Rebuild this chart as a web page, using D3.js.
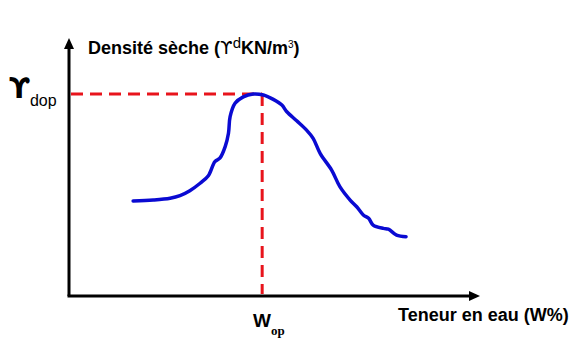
<!DOCTYPE html>
<html>
<head>
<meta charset="utf-8">
<script src="https://cdn.jsdelivr.net/npm/d3@7"></script>
<style>
  body { margin: 0; background: #fff; }
  svg { display: block; }
</style>
</head>
<body>
<svg width="575" height="353"></svg>
<script>
// compaction curve (arbitrary units 0..100)
var waterContent = [15.6, 20.5, 24.6, 27.0, 29.4, 31.9, 33.9, 35.5, 36.7, 38.0, 38.8, 39.2, 40.4, 42.4, 44.8, 47.3,
  49.7, 51.8, 53.0, 55.4, 57.8, 59.4, 61.1, 63.9, 65.9, 68.4, 70.0, 71.6, 72.9, 74.0, 76.5, 77.7, 79.7, 82.0];
var dryDensity = [36.8, 37.2, 37.9, 38.9, 40.8, 43.7, 46.6, 52.1, 53.4, 57.9, 63.1, 69.5, 74.7, 77.2, 78.3, 77.9,
  76.2, 74.0, 71.4, 67.9, 64.3, 61.1, 55.3, 48.8, 42.4, 37.2, 34.6, 31.4, 30.1, 27.5, 26.2, 25.9, 23.6, 23.0];
var wOp = 47.0;
var dOp = 78.3;

var svg = d3.select('svg');

var x = d3.scaleLinear().domain([0, 100]).range([69, 480]);
var y = d3.scaleLinear().domain([0, 100]).range([296, 38]);

var axes = svg.append('g').attr('class', 'axes');
axes.append('line')
  .attr('x1', x(0)).attr('y1', y(0))
  .attr('x2', x(0)).attr('y2', y(100) + 8)
  .style('stroke', '#000').style('stroke-width', 3);
axes.append('line')
  .attr('x1', x(0) - 1.5).attr('y1', y(0))
  .attr('x2', x(100) - 8).attr('y2', y(0))
  .style('stroke', '#000').style('stroke-width', 3);
// arrow heads
axes.append('path')
  .attr('d', 'M' + x(0) + ',' + y(100) + 'l-5,11l10,0z')
  .style('fill', '#000');
axes.append('path')
  .attr('d', 'M' + x(100) + ',' + y(0) + 'l-11,-5l0,10z')
  .style('fill', '#000');

// optimum guide lines
var guides = svg.append('g').attr('class', 'guides')
  .style('stroke', '#e8141c').style('stroke-width', 3)
  .style('stroke-dasharray', '12,7').style('fill', 'none');
guides.append('line')
  .attr('x1', x(0) + 2).attr('y1', y(dOp))
  .attr('x2', x(wOp)).attr('y2', y(dOp));
guides.append('line')
  .attr('x1', x(wOp)).attr('y1', y(dOp))
  .attr('x2', x(wOp)).attr('y2', y(0) - 2);

var pts = waterContent.map(function (w, i) { return [w, dryDensity[i]]; });
var line = d3.line()
  .x(function (d) { return x(d[0]); })
  .y(function (d) { return y(d[1]); })
  .curve(d3.curveCatmullRom);

svg.append('path')
  .attr('d', line(pts))
  .style('fill', 'none')
  .style('stroke', '#0a0ad2')
  .style('stroke-width', 3.5)
  .style('stroke-linecap', 'round')
  .style('stroke-linejoin', 'round');

// labels
var title = svg.append('text')
  .attr('x', 88).attr('y', 54)
  .style('font-family', 'Liberation Sans, Arial, sans-serif')
  .style('font-weight', 'bold').style('font-size', '18px');
title.append('tspan').text('Densité sèche (');
title.append('tspan').text('ϒ').style('font-family', 'DejaVu Sans').style('font-weight', 'normal');
title.append('tspan').text('d').attr('dy', -6).style('font-weight', 'normal').style('font-size', '15px');
title.append('tspan').text('KN/m').attr('dy', 6);
title.append('tspan').text('3').attr('dy', -6).style('font-weight', 'normal').style('font-size', '10px');
title.append('tspan').text(')').attr('dy', 6);

svg.append('text')
  .attr('x', 398).attr('y', 321)
  .style('font-family', 'Liberation Sans, Arial, sans-serif')
  .style('font-weight', 'bold').style('font-size', '18px')
  .text('Teneur en eau (W%)');

var yl = svg.append('text')
  .attr('x', 9).attr('y', 98)
  .style('font-family', 'Liberation Sans, Arial, sans-serif');
yl.append('tspan').text('ϒ').style('font-family', 'DejaVu Sans').style('font-weight', 'bold').style('font-size', '28px');
yl.append('tspan').text('dop').attr('dy', 8).style('font-size', '16px');

var xl = svg.append('text')
  .attr('x', 253).attr('y', 327)
  .style('font-family', 'Liberation Sans, Arial, sans-serif');
xl.append('tspan').text('W').style('font-weight', 'bold').style('font-size', '19px');
xl.append('tspan').text('op').attr('dy', 8)
  .style('font-family', 'Liberation Serif, serif').style('font-weight', 'bold').style('font-size', '13px');
</script>
</body>
</html>
